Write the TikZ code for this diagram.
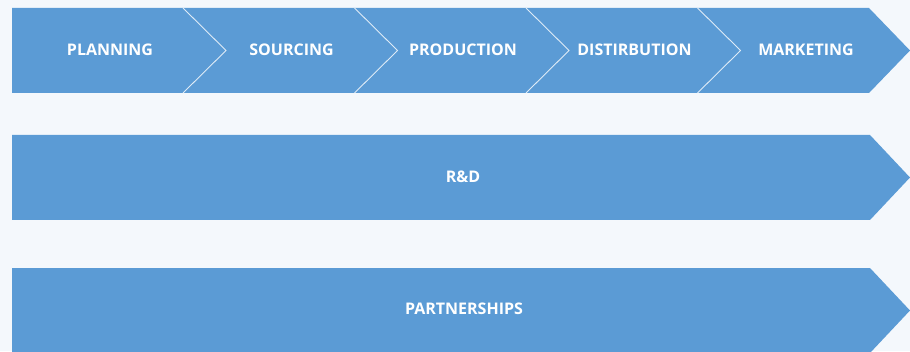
\documentclass[tikz,border=0pt]{standalone}
\usepackage{fontspec}
\setmainfont{Open Sans}
\begin{document}
\begin{tikzpicture}[x=1pt,y=1pt,
  lbl/.style={text=white, font=\bfseries\fontsize{16}{18}\selectfont, inner sep=0pt}]
\definecolor{bandblue}{HTML}{5B9BD5}
\definecolor{pagebg}{HTML}{F4F8FC}
\fill[pagebg] (0,0) rectangle (910,351);
\useasboundingbox (0,0) rectangle (910,351);
% top row: five chevrons, each 171.5 wide with a 43 deep point
\fill[bandblue] (12,343) -- (869,343) -- (910,300.5) -- (869,258) -- (12,258) -- cycle;
\foreach \x in {183,354.5,526,697.5} {
  \draw[white!80!bandblue, line width=0.9pt] (\x,343) -- (\x+43,300.5) -- (\x,258);
}
\node[lbl] (planning) at (110,301) {PLANNING};
\node[lbl] (sourcing) at (291.5,301) {SOURCING};
\node[lbl] (production) at (463,301) {PRODUCTION};
\node[lbl] (distribution) at (634.5,301) {DISTIRBUTION};
\node[lbl] (marketing) at (806,301) {MARKETING};
% full-width arrows
\fill[bandblue] (12,216) -- (870,216) -- (910,173.5) -- (870,131) -- (12,131) -- cycle;
\node[lbl] (rd) at (463,174) {R\&D};
\fill[bandblue] (12,83) -- (870,83) -- (910,40.5) -- (870,-2) -- (12,-2) -- cycle;
\node[lbl] (partnerships) at (464,42) {PARTNERSHIPS};
\end{tikzpicture}
\end{document}
